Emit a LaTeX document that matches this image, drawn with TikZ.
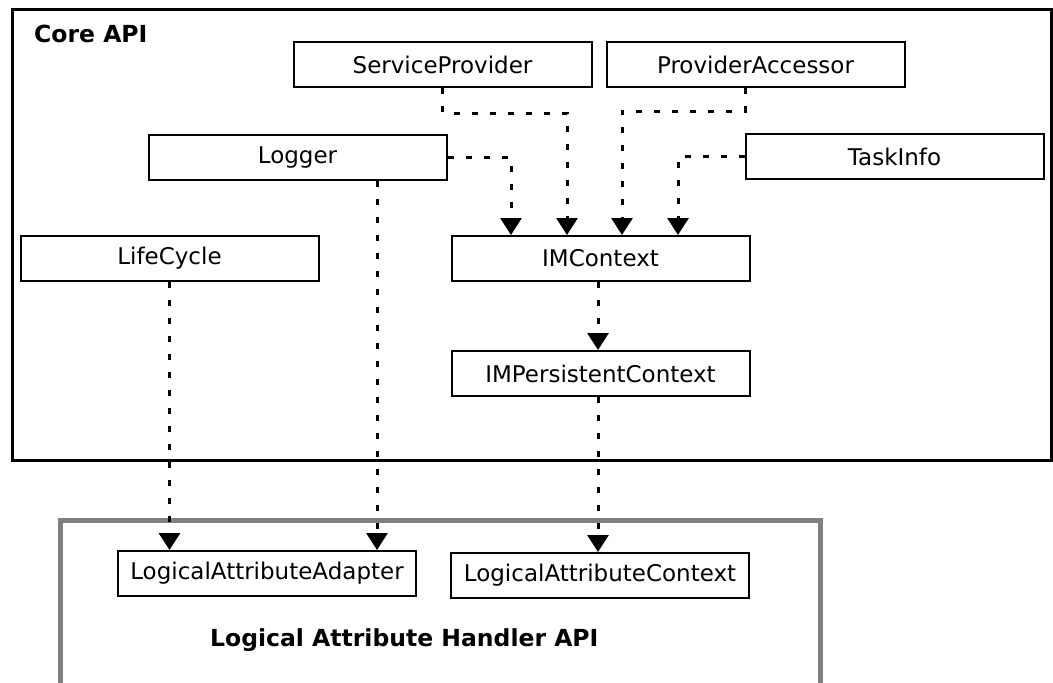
\documentclass[tikz,border=0pt]{standalone}
\usepackage{fontspec}
\setmainfont{DejaVu Sans}
\usetikzlibrary{arrows.meta}
\begin{document}
\begin{tikzpicture}[x=1pt,y=-1pt,
  box/.style={draw=black, line width=2pt, minimum width=298pt, minimum height=45pt, inner sep=0pt, font=\fontsize{23}{27}\selectfont},
  conn/.style={line width=3pt, dash pattern=on 6pt off 12pt, -{Triangle[width=21pt,length=17pt]}},
  plain/.style={line width=3pt, dash pattern=on 6pt off 12pt},
  title/.style={font=\fontsize{23.5}{28}\selectfont\bfseries, inner sep=0pt, anchor=base west}]
\useasboundingbox (0,0) rectangle (1053,683);
\clip (0,0) rectangle (1053,683);
% containers
\draw[line width=3pt, black] (12,9) rectangle (1051,460);
\draw[line width=5pt, gray] (60,520) rectangle (820,720);
\node[title] (core) at (34,42) {Core API};
\node[title] (lah) at (210,646) {Logical Attribute Handler API};
% nodes
\node[box] (SP) at (442.5,64.5) {ServiceProvider};
\node[box] (PA) at (755.5,64.5) {ProviderAccessor};
\node[box] (LOG) at (297.5,157.5) {Logger};
\node[box] (TI) at (894.5,156.5) {TaskInfo};
\node[box] (LC) at (169.5,258.5) {LifeCycle};
\node[box] (IMC) at (600.5,258.5) {IMContext};
\node[box] (IMPC) at (600.5,373.5) {IMPersistentContext};
\node[box] (LAA) at (267,573.5) {LogicalAttributeAdapter};
\node[box] (LAC) at (600,575.5) {LogicalAttributeContext};
% connectors
\draw[conn] (SP.south) |- (567,113) -- (567,113 |- IMC.north);
\draw[conn] (745,0 |- PA.south) |- (622,111) -- (622,111 |- IMC.north);
\draw[conn] (LOG.east) -| (511,0 |- IMC.north);
\draw[conn] (TI.west) -| (678,0 |- IMC.north);
\draw[conn] (377,0 |- LOG.south) -- (377,0 |- LAA.north);
\draw[conn] (LC.south) -- (LC.south |- LAA.north);
\draw[conn] (598,0 |- IMC.south) -- (598,0 |- IMPC.north);
\draw[conn] (598,0 |- IMPC.south) -- (598,0 |- LAC.north);
\end{tikzpicture}
\end{document}
